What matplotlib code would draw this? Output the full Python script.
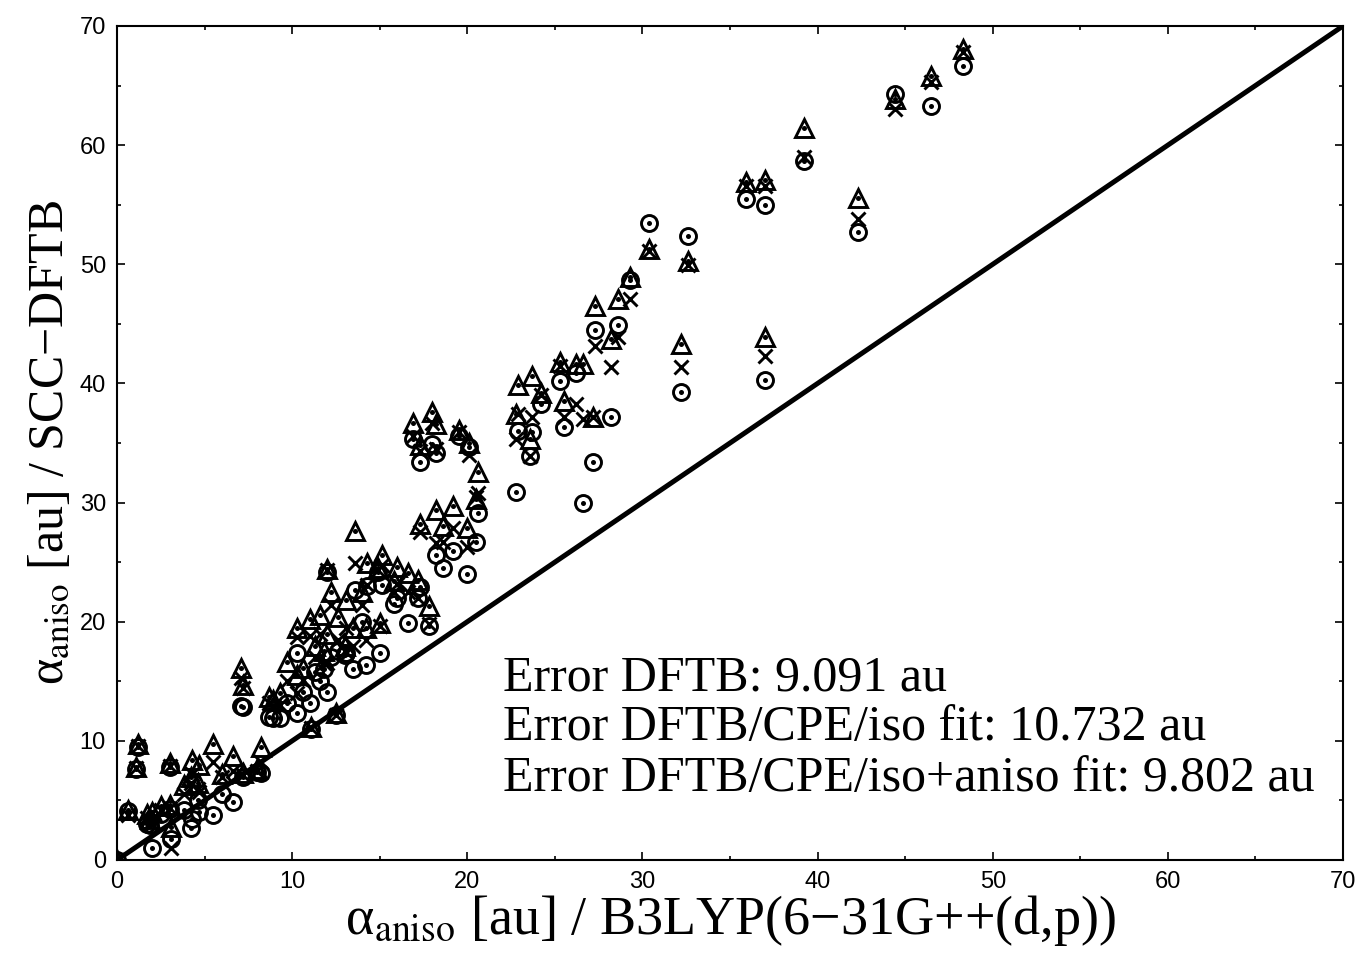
import numpy as np
import matplotlib
matplotlib.use('Agg')
from matplotlib import pyplot as plt
from matplotlib.ticker import MultipleLocator

# reference anisotropic polarisability, B3LYP(6-31G++(d,p)) [au]
x_ref = [
    0.0, 0.6, 1.1, 1.2, 1.7, 1.9, 2.0, 2.5, 3.0, 3.0, 3.1, 3.8, 4.2, 4.3, 4.6, 4.7,
    5.5, 6.0, 6.6, 7.2, 8.0, 8.2, 7.1, 7.2,
    8.7, 8.9, 9.3, 9.7, 10.3, 10.3, 10.6, 11.0, 11.1, 11.3, 11.6, 11.8, 12.0, 12.0,
    12.2, 12.5, 12.6, 13.0, 13.1, 13.5, 13.6, 14.0, 14.2, 14.3, 14.9, 15.0, 15.1,
    15.8, 16.0, 16.6, 16.9, 17.2, 17.3, 17.3, 17.8, 18.0, 18.2, 18.2, 18.6, 19.2,
    19.5, 20.0, 20.1, 20.5, 20.6,
    22.8, 22.9, 23.6, 23.7, 24.2, 25.3, 25.5, 26.2, 26.6, 27.2, 27.3, 28.2, 28.6,
    29.3, 30.4, 32.2, 32.6, 35.9, 37.0, 37.0, 39.2, 42.3, 44.4, 46.5, 48.3,
]
# SCC-DFTB/CPE iso fit (triangles)
y_iso = [
    0.0, 4.2, 7.8, 9.7, 3.9, 3.4, 4.0, 4.5, 8.1, 4.6, 2.8, 6.3, 7.0, 8.4, 6.5, 8.0,
    9.7, 7.2, 8.7, 7.3, 7.6, 9.5, 16.1, 14.7,
    13.7, 13.4, 14.0, 16.6, 19.5, 15.5, 16.1, 20.2, 11.2, 18.0, 20.6, 17.5, 24.4, 19.0,
    22.5, 12.3, 20.4, 18.0, 21.8, 19.5, 27.6, 22.5, 19.5, 24.9, 24.5, 19.9, 25.6,
    23.4, 24.6, 24.1, 36.7, 23.5, 34.8, 28.2, 21.3, 37.6, 36.6, 29.4, 28.0, 29.7,
    36.1, 27.9, 35.0, 30.3, 32.6,
    37.4, 39.9, 35.3, 40.6, 39.2, 41.8, 38.5, 41.6, 41.6, 37.2, 46.5, 43.7, 47.1,
    48.9, 51.3, 43.3, 50.3, 56.9, 57.1, 43.9, 61.4, 55.6, 63.9, 65.8, 68.1,
]
# SCC-DFTB/CPE iso+aniso fit (crosses)
y_isoaniso = [
    0.0, 3.8, 7.7, 9.6, 3.5, 3.1, 3.0, 4.2, 7.9, 4.4, 1.0, 5.5, 6.5, 7.2, 6.0, 5.7,
    8.2, 7.0, 7.5, 7.1, 7.5, 8.2, 15.3, 14.4,
    13.2, 12.9, 13.0, 15.0, 18.7, 14.0, 15.1, 18.8, 11.1, 17.0, 19.0, 16.5, 24.3, 16.5,
    21.4, 12.2, 18.5, 17.5, 19.5, 18.0, 24.9, 21.4, 18.5, 23.1, 24.3, 19.6, 24.8,
    22.5, 23.2, 22.5, 35.6, 22.0, 34.3, 27.5, 19.8, 36.7, 34.5, 26.6, 26.7, 27.9,
    35.9, 26.3, 34.0, 30.5, 30.8,
    35.3, 37.4, 33.9, 37.2, 39.0, 41.5, 37.2, 38.3, 37.0, 37.2, 43.1, 41.4, 43.9,
    47.1, 51.1, 41.4, 49.9, 56.6, 56.6, 42.3, 59.0, 53.8, 63.0, 65.3, 67.8,
]
# plain SCC-DFTB (circles)
y_dftb = [
    0.0, 4.1, 7.6, 9.5, 3.0, 2.9, 1.0, 3.9, 7.8, 4.3, 1.8, 4.2, 2.7, 3.4, 5.0, 4.0,
    3.8, 5.5, 4.9, 7.0, 7.4, 7.3, 12.9, 12.8,
    12.0, 11.9, 11.9, 13.2, 17.4, 12.3, 14.1, 13.2, 11.0, 15.8, 15.0, 16.0, 24.2, 14.1,
    17.0, 12.2, 17.5, 17.2, 17.4, 16.0, 22.7, 20.0, 16.4, 23.0, 24.2, 17.4, 23.1,
    21.5, 22.0, 19.9, 35.3, 22.0, 33.4, 22.9, 19.6, 34.9, 34.2, 25.6, 24.5, 25.9,
    35.6, 24.0, 34.7, 26.7, 29.1,
    30.9, 36.0, 33.9, 35.9, 38.3, 40.2, 36.3, 40.9, 30.0, 33.4, 44.5, 37.2, 44.9,
    48.7, 53.5, 39.3, 52.4, 55.5, 55.0, 40.3, 58.7, 52.7, 64.3, 63.3, 66.6,
]
error_lines = [
    'Error DFTB: 9.091 au',
    'Error DFTB/CPE/iso fit: 10.732 au',
    'Error DFTB/CPE/iso+aniso fit: 9.802 au',
]
lim = [0, 70]

plt.rcParams['mathtext.fontset'] = 'stix'
serif = ['Liberation Serif', 'DejaVu Serif']
narrow = ['Liberation Sans Narrow', 'Liberation Sans', 'DejaVu Sans']

fig = plt.figure(figsize=(13.61, 9.58), dpi=100)
ax = fig.add_axes([0.086, 0.1023, 0.9008, 0.8706])

ax.plot(lim, lim, color='black', lw=3.6, zorder=2)

mk = dict(linestyle='none', color='black', mew=2.1, zorder=3)
ax.plot(x_ref, y_iso, marker='^', ms=12.5, mfc='none', **mk)
ax.plot(x_ref, y_iso, marker='.', ms=3, **mk)
ax.plot(x_ref, y_isoaniso, marker='x', ms=10.5, **mk)
ax.plot(x_ref, y_dftb, marker='o', ms=11.5, mfc='none', **mk)
ax.plot(x_ref, y_dftb, marker='.', ms=3, **mk)

ax.set_xlim(lim)
ax.set_ylim(lim)
ax.xaxis.set_major_locator(MultipleLocator(10))
ax.yaxis.set_major_locator(MultipleLocator(10))
ax.xaxis.set_minor_locator(MultipleLocator(5))
ax.yaxis.set_minor_locator(MultipleLocator(5))
ax.tick_params(which='both', direction='in', top=True, right=True, width=1.2)
ax.tick_params(which='major', length=6, labelsize=17, pad=8)
ax.tick_params(which='minor', length=3)
for lab in ax.get_xticklabels() + ax.get_yticklabels():
    lab.set_family(narrow)
for sp in ax.spines.values():
    sp.set_linewidth(1.5)

ax.set_xlabel('α$_{\\mathrm{aniso}}$ [au] / B3LYP(6−31G++(d,p))',
              family=serif, fontsize=39, labelpad=0)
ax.set_ylabel('α$_{\\mathrm{aniso}}$ [au] / SCC−DFTB',
              family=serif, fontsize=36, labelpad=4)

for i, line in enumerate(error_lines):
    ax.text(0.315, 0.218 - 0.06 * i, line, transform=ax.transAxes,
            family=serif, fontsize=36, va='center', ha='left')

fig.savefig('out.png', dpi=100)
